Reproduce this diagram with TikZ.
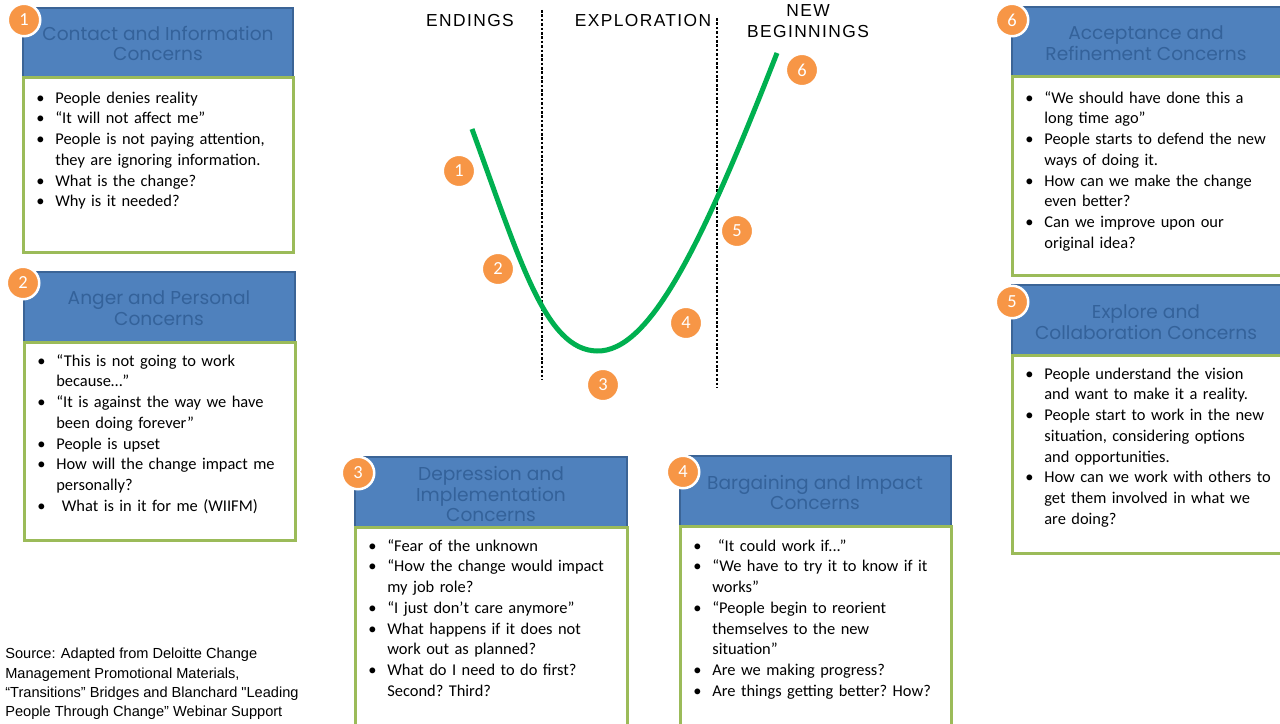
\documentclass[tikz,border=0pt]{standalone}
\usepackage{fontspec}
\setmainfont{Carlito}
\newfontfamily\srcfont{Liberation Sans}
\newfontfamily\phasefont[LetterSpace=8]{Liberation Sans}
\newfontfamily\gothic{Poppins}
\usetikzlibrary{arrows.meta,shapes.geometric}
\tikzset{>=stealth}

\definecolor{hdfill}{HTML}{4F81BD}
\definecolor{hdline}{HTML}{3B6496}
\definecolor{hdtext}{HTML}{34629A}
\definecolor{bdline}{HTML}{9BBB59}
\definecolor{badgeor}{HTML}{F79646}
\definecolor{curvegr}{HTML}{00B050}

\newcommand{\bul}[1]{\par\noindent\hangindent=0.38cm\hangafter=1\makebox[0.38cm][l]{\textbullet}#1\par}

\tikzset{
  header/.style={draw=hdline, fill=hdfill, line width=0.04cm},
  body/.style={draw=bdline, fill=white, line width=0.06cm},
  hdtitle/.style={text=hdtext, align=center, inner sep=0pt,
    font=\gothic\fontsize{10.6}{11.9}\selectfont},
  itemlist/.style={anchor=north west, inner sep=0pt, text width=5.3cm,
    align=left, font=\fontsize{9.35}{11.8}\selectfont\frenchspacing},
  badge/.style={circle, fill=badgeor, draw=white, line width=0.05cm,
    minimum size=0.65cm, inner sep=0pt, text=white,
    font=\fontsize{10.5}{12}\selectfont},
  phase/.style={align=center, inner sep=0pt,
    font=\phasefont\fontsize{9.9}{11.9}\selectfont},
  divider/.style={dash pattern=on 1.5pt off 1pt, line width=0.6pt},
}

\begin{document}
\begin{tikzpicture}[x=0.02cm,y=-0.02cm]
\useasboundingbox (0,0) rectangle (1280,723);

% phases of the transition
\draw[divider] (542,10) -- (542,380);
\draw[divider] (717,18) -- (717,387);
\node[phase] (endings) at (470,21) {ENDINGS};
\node[phase] (explore) at (643,21) {EXPLORATION};
\node[phase] (newbeg) at (808,21.5) {NEW\\BEGINNINGS};

\draw[curvegr, line width=0.1cm] (472,129)
  .. controls (520,260) and (545,350) .. (597,351)
  .. controls (650,352) and (702,245) .. (777,53);

\foreach \n/\x/\y in {1/459/171,2/498/269,3/603/385,4/686/323,5/737/231,6/802/70}
  \node[badge] (c\n) at (\x,\y) {\n};

% box 1
\draw[header] (23,8) rectangle (293,78);
\draw[body] (23,78) rectangle (293,252);
\node[hdtitle] (t1) at (158,43.5) {Contact and Information\\Concerns};
\node[itemlist] (l1) at (36,82) {%
  \bul{People denies reality}
  \bul{“It will not affect me”}
  \bul{People is not paying attention,\newline they are ignoring information.}
  \bul{What is the change?}
  \bul{Why is it needed?}};
\node[badge] (b1) at (24,20) {1};

% box 2
\draw[header] (24,272) rectangle (295,342);
\draw[body] (24,342) rectangle (295,540);
\node[hdtitle] (t2) at (159,308.5) {Anger and Personal\\Concerns};
\node[itemlist] (l2) at (37,345) {%
  \bul{“This is not going to work\newline because…”}
  \bul{“It is against the way we have\newline been doing forever”}
  \bul{People is upset}
  \bul{How will the change impact me\newline personally?}
  \bul{\ What is in it for me (WIIFM)}};
\node[badge] (b2) at (23,283) {2};

% box 3
\draw[header] (355,457) rectangle (627,527);
\draw[body] (355,527) rectangle (627,740);
\node[hdtitle] (t3) at (491,494) {Depression and\\Implementation\\Concerns};
\node[itemlist] (l3) at (368,530) {%
  \bul{“Fear of the unknown}
  \bul{“How the change would impact\newline my job role?}
  \bul{“I just don’t care anymore”}
  \bul{What happens if it does not\newline work out as planned?}
  \bul{What do I need to do first?\newline Second? Third?}};
\node[badge] (b3) at (358,473) {3};

% box 4
\draw[header] (680,456) rectangle (951,526);
\draw[body] (680,526) rectangle (951,740);
\node[hdtitle] (t4) at (815,492.5) {Bargaining and Impact\\Concerns};
\node[itemlist] (l4) at (693,530) {%
  \bul{\ “It could work if...”}
  \bul{“We have to try it to know if it\newline works”}
  \bul{“People begin to reorient\newline themselves to the new\newline situation”}
  \bul{Are we making progress?}
  \bul{Are things getting better? How?}};
\node[badge] (b4) at (683,472) {4};

% box 6
\draw[header] (1012,7) rectangle (1290,77);
\draw[body] (1012,77) rectangle (1290,275);
\node[hdtitle] (t6) at (1146,43.5) {Acceptance and\\Refinement Concerns};
\node[itemlist] (l6) at (1025,82) {%
  \bul{“We should have done this a\newline long time ago”}
  \bul{People starts to defend the new\newline ways of doing it.}
  \bul{How can we make the change\newline even better?}
  \bul{Can we improve upon our\newline original idea?}};
\node[badge] (b6) at (1012,20) {6};

% box 5
\draw[header] (1012,285) rectangle (1290,355);
\draw[body] (1012,355) rectangle (1290,553);
\node[hdtitle] (t5) at (1146,322) {Explore and\\Collaboration Concerns};
\node[itemlist] (l5) at (1025,358) {%
  \bul{People understand the vision\newline and want to make it a reality.}
  \bul{People start to work in the new\newline situation, considering options\newline and opportunities.}
  \bul{How can we work with others to\newline get them involved in what we\newline are doing?}};
\node[badge] (b5) at (1012,302) {5};

\node[anchor=north west, inner sep=0pt, align=left,
  font=\srcfont\fontsize{8.3}{10.9}\selectfont] (src) at (5,648)
  {Source: Adapted from Deloitte Change\\Management Promotional Materials,\\“Transitions” Bridges and Blanchard "Leading\\People Through Change” Webinar Support\\Material};
\end{tikzpicture}
\end{document}
